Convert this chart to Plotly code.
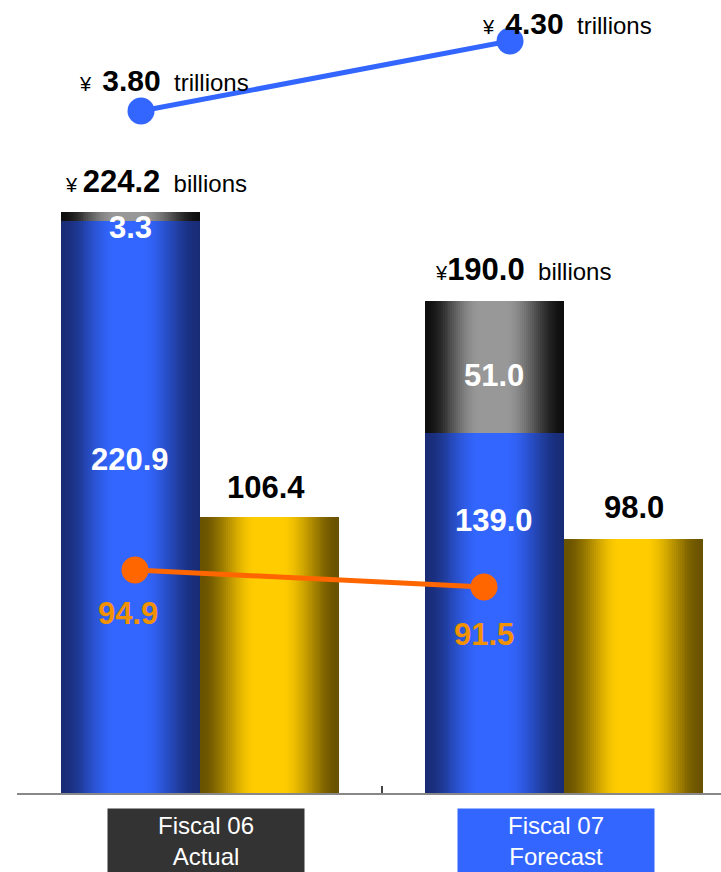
import plotly.graph_objects as go

# ---------------- data ----------------
categories = ["Fiscal 06<br>Actual", "Fiscal 07<br>Forecast"]
blue_vals = [220.9, 139.0]          # lower stacked segment
gray_vals = [3.3, 51.0]             # upper stacked segment
total_vals = [224.2, 190.0]         # stack totals (billions)
gold_vals = [106.4, 98.0]           # second bar
orange_vals = [94.9, 91.5]          # orange line
trillion_vals = [3.80, 4.30]        # blue line (trillions)

# ---------------- style ----------------
FONT = "Liberation Sans, Arial, sans-serif"
N = 70                 # gradient slices per bar
W = 0.383              # bar width in category units
BLUE_D, BLUE_B = (24, 44, 118), (51, 102, 255)
GRAY_D, GRAY_B = (14, 14, 14), (152, 152, 152)
GOLD_D, GOLD_B = (105, 82, 0), (255, 204, 0)
PX_PER_UNIT = 364.0
PLOT_W, PLOT_H = 704, 793


def grad_colors(dark, bright, n):
    out = []
    for k in range(n):
        t = (k + 0.5) / n
        if t < 0.40:
            f = t / 0.40
        elif t < 0.58:
            f = 1.0
        else:
            f = (1 - t) / 0.42
        f = f * f * (3 - 2 * f)
        c = [round(d + (b - d) * f) for d, b in zip(dark, bright)]
        out.append(f"rgb({c[0]},{c[1]},{c[2]})")
    return out


def sliced_bar(vals, bases, off0, dark, bright):
    cols = grad_colors(dark, bright, N)
    xs, ys, bs, offs, wids, cc = [], [], [], [], [], []
    for i, v in enumerate(vals):
        for k in range(N):
            xs.append(i)
            ys.append(v)
            bs.append(bases[i])
            offs.append(off0 + k * W / N)
            wids.append(W / N * (1.6 if k < N - 1 else 1.0))
            cc.append(cols[k])
    return go.Bar(x=xs, y=ys, base=bs, offset=offs, width=wids,
                  marker=dict(color=cc, line=dict(width=0)),
                  hoverinfo="skip", showlegend=False, xaxis="x", yaxis="y")


fig = go.Figure()
fig.add_trace(sliced_bar(blue_vals, [0, 0], -W, BLUE_D, BLUE_B))
fig.add_trace(sliced_bar(gray_vals, blue_vals, -W, GRAY_D, GRAY_B))
fig.add_trace(sliced_bar(gold_vals, [0, 0], 0.0, GOLD_D, GOLD_B))

fig.add_trace(go.Scatter(x=[0, 1], y=orange_vals, xaxis="x2", yaxis="y2",
                         mode="lines+markers", showlegend=False,
                         line=dict(color="#ff6600", width=5),
                         marker=dict(size=27, color="#ff6600")))
fig.add_trace(go.Scatter(x=[0, 1], y=trillion_vals, xaxis="x3", yaxis="y3",
                         mode="lines+markers", showlegend=False,
                         line=dict(color="#3366ff", width=5),
                         marker=dict(size=27, color="#3366ff")))

ann = []
bshift = -W / 2 * PX_PER_UNIT
gshift = W / 2 * PX_PER_UNIT
white_shift = [-239, -88]
for i, v in enumerate(blue_vals):
    ann.append(dict(x=i, y=v, xref="x", yref="y", text=f"<b>{v:.1f}</b>",
                    showarrow=False, xshift=bshift, yshift=white_shift[i],
                    font=dict(family=FONT, size=31, color="white")))
gray_shift = [-15, -9]
for i, v in enumerate(gray_vals):
    yy = total_vals[i] if i == 0 else blue_vals[i] + v / 2
    ann.append(dict(x=i, y=yy, xref="x", yref="y", text=f"<b>{v:.1f}</b>",
                    showarrow=False, xshift=bshift, yshift=gray_shift[i],
                    font=dict(family=FONT, size=31, color="white")))
gold_shift = [30, 32]
gold_xs = [-4, 0]
for i, v in enumerate(gold_vals):
    ann.append(dict(x=i, y=v, xref="x", yref="y", text=f"<b>{v:.1f}</b>",
                    showarrow=False, xshift=gshift + gold_xs[i],
                    yshift=gold_shift[i],
                    font=dict(family=FONT, size=31, color="black")))
orange_xs = [-7, 0]
orange_ys = [-43, -47]
for i, v in enumerate(orange_vals):
    ann.append(dict(x=i, y=v, xref="x2", yref="y2", text=f"<b>{v:.1f}</b>",
                    showarrow=False, xshift=orange_xs[i], yshift=orange_ys[i],
                    font=dict(family=FONT, size=31, color="#f39200")))
tot_sep = [" ", ""]
tot_xs = [-44.5, -41.5]
for i, v in enumerate(total_vals):
    txt = (f"<span style='font-size:20px'>¥{tot_sep[i]}</span><b>{v:.1f}</b>"
           f"<span style='font-size:24px'>  billions</span>")
    ann.append(dict(x=i, y=v, xref="x", yref="y", text=txt, showarrow=False,
                    xshift=tot_xs[i], yshift=31,
                    font=dict(family=FONT, size=31, color="black")))
tr_xs = [22.5, 57]
tr_ys = [31, 18]
for i, v in enumerate(trillion_vals):
    txt = (f"<span style='font-size:20px'>¥  </span><b>{v:.2f}</b>"
           f"<span style='font-size:24px'>  trillions</span>")
    ann.append(dict(x=i, y=v, xref="x3", yref="y3", text=txt, showarrow=False,
                    xshift=tr_xs[i], yshift=tr_ys[i],
                    font=dict(family=FONT, size=30, color="black")))
box_cols = ["#333333", "#3366ff"]
box_xs = [5.5, -8]
for i, c in enumerate(categories):
    ann.append(dict(x=i, y=0, xref="x", yref="paper", yanchor="top",
                    text=c, showarrow=False, xshift=box_xs[i], yshift=-15,
                    width=196, height=64, bgcolor=box_cols[i], borderpad=0,
                    align="center", valign="middle",
                    font=dict(family=FONT, size=24, color="white")))

fig.update_layout(
    width=721, height=872,
    margin=dict(l=17, r=0, t=0, b=79, pad=0),
    paper_bgcolor="white", plot_bgcolor="white",
    barmode="overlay", bargap=0,
    annotations=ann,
    xaxis=dict(range=[-0.5 - 1 / PX_PER_UNIT, -0.5 - 1 / PX_PER_UNIT + PLOT_W / PX_PER_UNIT],
               showgrid=False,
               zeroline=False, showline=True, linecolor="#888888", linewidth=2,
               ticks="inside", tickvals=[-0.5, 0.5, 1.5], ticklen=7,
               tickcolor="#444444", tickwidth=2, showticklabels=False,
               fixedrange=True),
    xaxis2=dict(overlaying="x", range=[(17 - 135) / 349, (721 - 135) / 349],
                visible=False),
    xaxis3=dict(overlaying="x", range=[(17 - 141) / 369, (721 - 141) / 369],
                visible=False),
    yaxis=dict(range=[0, PLOT_H / 2.59], visible=False),
    yaxis2=dict(overlaying="y", range=[50.3, 50.3 + PLOT_H / 5.0], visible=False),
    yaxis3=dict(overlaying="y", range=[-1.071, -1.071 + PLOT_H / 140.0],
                visible=False),
)

fig.write_html("out.html")
